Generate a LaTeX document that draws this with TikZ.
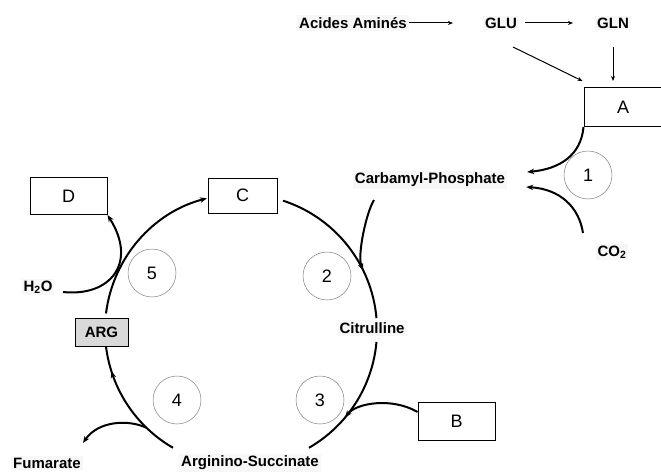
\documentclass[tikz,border=0pt]{standalone}
\usepackage{fontspec}
\setmainfont{Liberation Sans}
\usetikzlibrary{arrows.meta,decorations.markings}
\begin{document}
\begin{tikzpicture}[x=1pt,y=1pt,
  lbl/.style={font=\fontsize{15}{17}\selectfont\bfseries, fill=black!3, inner sep=2pt},
  box/.style={draw, line width=1pt, minimum width=77pt, minimum height=37pt, font=\fontsize{18}{20}\selectfont, inner sep=0pt},
  num/.style={circle, draw=black!50, line width=0.5pt, minimum size=48pt, inner sep=0pt, font=\fontsize{18}{20}\selectfont},
  cyc/.style={line width=2pt},
  thinline/.style={line width=1pt},
  tip/.style={-{Stealth[length=7pt,width=5.5pt]}},
  smalltip/.style={-{Stealth[length=5pt,width=4pt]}}
]
\useasboundingbox (0,0) rectangle (661,475);
\clip (0,0) rectangle (661,475);

\coordinate (O) at (241,145);

% cycle arcs
\draw[cyc] ([shift={(72:136)}]O) arc[start angle=72, end angle=5, radius=136];
\draw[cyc] ([shift={(-5:136)}]O) arc[start angle=-5, end angle=-60, radius=136];
\draw[cyc, postaction={decorate}, decoration={markings, mark=at position 0.8 with {\arrow{Stealth[length=7pt,width=5.5pt]}}}]
  ([shift={(240:136)}]O) arc[start angle=240, end angle=187, radius=136];

% boxes
\node[box, minimum width=69pt, minimum height=35pt] (C) at (242.5,279.5) {C};
\node[box] (D) at (68.5,279) {D};
\node[box, minimum width=78pt, minimum height=39pt] (A) at (623,368) {A};
\node[box, minimum height=38pt] (B) at (456.5,54) {B};
\node[draw, line width=1pt, fill=black!15, minimum width=53pt, minimum height=28pt, inner sep=0pt,
      font=\fontsize{15}{17}\selectfont\bfseries] (ARG) at (101.5,143) {ARG};

\draw[cyc, tip] ([shift={(173:136)}]O) arc[start angle=173, end angle=104.5, radius=136];

% labels
\node[lbl] (AA) at (353,452) {Acides Aminés};
\node[lbl] (GLU) at (501,452) {GLU};
\node[lbl] (GLN) at (613,452) {GLN};
\node[lbl] (CP) at (430,295) {Carbamyl-Phosphate};
\node[lbl] (CO2) at (612,223) {CO\textsubscript{2}};
\node[lbl] (CIT) at (372,147) {Citrulline};
\node[lbl] (AS) at (250,12) {Arginino-Succinate};
\node[lbl] (FUM) at (47,12) {Fumarate};
\node[lbl] (H2O) at (38,188) {H\textsubscript{2}O};

% enzyme numbers
\node[num] (n1) at (588,300) {1};
\node[num] (n2) at (327,199) {2};
\node[num] (n3) at (320,75) {3};
\node[num] (n4) at (177,75) {4};
\node[num] (n5) at (152,202) {5};

% top arrows
\draw[thinline, smalltip] (AA.east) -- ([xshift=-30pt]GLU.west);
\draw[thinline, smalltip] ([xshift=6pt]GLU.east) -- ([xshift=-22pt]GLN.west);
\draw[thinline, smalltip] ([shift={(12,-24)}]GLU.center) -- ([shift={(-1,6)}]A.north west);
\draw[thinline, smalltip] ([yshift=-24]GLN.center) -- ([shift={(-10,6)}]A.north);

% A and CO2 to Carbamyl-Phosphate
\draw[cyc, tip] (A.south west) .. controls (581,320) and (560,306) .. ([shift={(20,8)}]CP.east);
\draw[cyc, tip] ([shift={(-29,19)}]CO2.center) .. controls (579,268) and (560,286) .. ([shift={(19,-7)}]CP.east);

% Carbamyl-Phosphate into cycle
\draw[cyc, tip] ([shift={(-56,-20)}]CP.center) .. controls (366,262) and (357,219) .. ([shift={(26:136)}]O);

% B into cycle
\draw[cyc, tip] ([yshift=9pt]B.west) .. controls (392,78) and (356,72) .. ([shift={(-40:136)}]O);

% Fumarate out of cycle
\draw[cyc, tip] ([shift={(226:136)}]O) .. controls (128,56) and (98,54) .. ([shift={(36,20)}]FUM.center);

% H2O to D
\draw[cyc, tip] ([shift={(25,-5)}]H2O.center) .. controls (110,178) and (138,212) .. (D.south east);
\end{tikzpicture}
\end{document}
